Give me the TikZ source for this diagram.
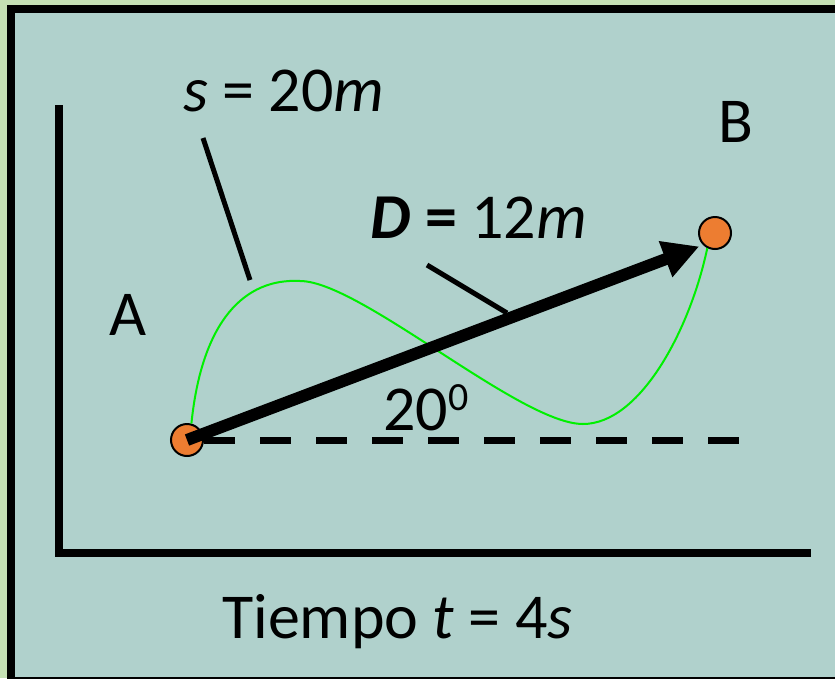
\documentclass[tikz,border=0pt]{standalone}
\usepackage{fontspec}
\setmainfont{Carlito}
\usetikzlibrary{arrows.meta}
\definecolor{bgout}{RGB}{197,224,180}
\definecolor{bgin}{RGB}{176,209,204}
\definecolor{ptorange}{RGB}{237,125,49}
\definecolor{pathgreen}{RGB}{0,240,0}
\tikzset{
  pt/.style={circle, fill=ptorange, draw=black, line width=2pt, minimum size=32pt, inner sep=0pt},
  lbl/.style={font=\fontsize{64}{72}\selectfont, inner sep=0pt},
  lead/.style={line width=5pt},
  axis/.style={line width=8pt, line join=miter},
  vec/.style={line width=12pt, -{Triangle[length=36pt,width=36pt]}, shorten >=4pt},
}
\begin{document}
\begin{tikzpicture}[x=1pt, y=-1pt]
\useasboundingbox (0,0) rectangle (835,678);
\fill[bgout] (0,0) rectangle (835,678);
\filldraw[fill=bgin, draw=black, line width=8pt] (11,9) rectangle (845,681);
% axes
\draw[axis] (59,105) -- (59,553) -- (811,553);
% points
\node[pt] (A) at (187,440) {};
\node[pt] (B) at (715,233) {};
% labels
\node[lbl, anchor=base west] (sLbl) at (183,111) {\textit{s} = 20\textit{m}};
\node[lbl, anchor=base west] (dLbl) at (370,238) {\textbf{\textit{D} =} 12\textit{m}};
\node[lbl, anchor=base] (aLbl) at (128,335) {A};
\node[lbl, anchor=base] (bLbl) at (736,142) {B};
\node[lbl, anchor=base west] (angLbl) at (383,430) {20\raisebox{20pt}{\fontsize{40}{40}\selectfont 0}};
\node[lbl, anchor=base west] (tLbl) at (222,638) {Tiempo \textit{t} = 4\textit{s}};
% path travelled
\draw[pathgreen, line width=2pt] (A.75) .. controls (202,320) and (245,278) .. (300,281)
  .. controls (360,281) and (520,424) .. (583,424)
  .. controls (640,424) and (690,330) .. (B.243);
% reference line
\coordinate (hEnd) at (740,440);
\draw[line width=7pt, dash pattern=on 31pt off 25pt] (A.east) -- (hEnd);
% displacement
\draw[vec] (A.center) -- (B.south west);
% pointers
\coordinate (sFrom) at (203,138);
\coordinate (sTo) at (250,280);
\coordinate (dFrom) at (427,265);
\coordinate (dTo) at (507,313);
\draw[lead] (sFrom) -- (sTo);
\draw[lead] (dFrom) -- (dTo);
\end{tikzpicture}
\end{document}
